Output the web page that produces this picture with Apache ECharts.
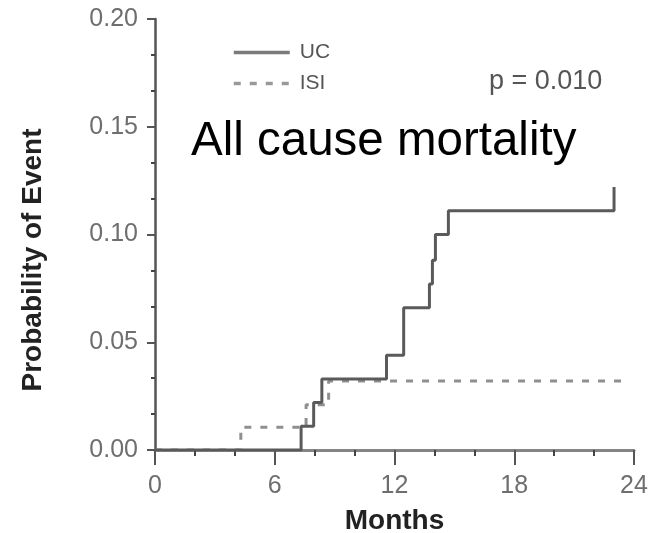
<!DOCTYPE html>
<html lang="en">
  <head>
    <meta charset="UTF-8" />
    <title>All cause mortality</title>
    <script src="https://cdn.jsdelivr.net/npm/echarts@6/dist/echarts.min.js"></script>
    <style>
      html, body { margin: 0; padding: 0; background: #fff; }
    </style>
  </head>
  <body>
    <div id="main" style="width: 652px;height:533px;"></div>
    <script type="text/javascript">
      // Kaplan-Meier style step curves
      var ucMonths = [0, 7.32, 7.95, 8.36, 11.6, 12.46, 13.75, 13.9, 14.05, 14.7, 23.0];
      var ucProb = [0, 0.011, 0.022, 0.033, 0.044, 0.066, 0.077, 0.088, 0.1, 0.111, 0.122];
      var isiMonths = [0, 4.3, 7.57, 8.7, 23.6];
      var isiProb = [0, 0.0105, 0.021, 0.032, 0.032];
      var xTicks = [0, 6, 12, 18, 24];
      var yTicks = [0, 0.05, 0.1, 0.15, 0.2];

      function pairs(xs, ys) {
        var out = [];
        for (var i = 0; i < xs.length; i++) out.push([xs[i], ys[i]]);
        return out;
      }

      var font = "Liberation Sans, Arial, sans-serif";
      var labelFont = { color: "#6e6e6e", fontSize: 25, fontFamily: font };

      var myChart = echarts.init(document.getElementById("main"));
      myChart.setOption({
        animation: false,
        backgroundColor: "#fff",
        // fixed plot box, labels may sit outside it
        grid: { left: 155, right: 18, top: 19, bottom: 83, containLabel: false, outerBoundsMode: "none" },
        title: {
          text: "All cause mortality",
          left: 186,
          top: 113,
          textStyle: { color: "#000", fontSize: 47.5, fontWeight: "normal", fontFamily: font }
        },
        legend: {
          orient: "vertical",
          left: 227,
          top: 37,
          itemWidth: 56,
          itemHeight: 14,
          itemGap: 10,
          itemStyle: { opacity: 0 },
          textStyle: { color: "#555", fontSize: 21, fontFamily: font, padding: [0, 0, 0, 5] },
          data: [
            { name: "UC", lineStyle: { width: 3.5, color: "#7a7a7a" } },
            { name: "ISI", lineStyle: { width: 3.5, color: "#999" } }
          ]
        },
        graphic: [
          {
            type: "text",
            left: 489,
            top: 68,
            style: { text: "p = 0.010", fill: "#555", fontSize: 27, fontFamily: font }
          },
          {
            type: "text",
            x: 33,
            y: 260,
            rotation: Math.PI / 2,
            style: {
              text: "Probability of Event",
              fill: "#222",
              fontSize: 28,
              fontWeight: "bold",
              fontFamily: font,
              align: "center",
              verticalAlign: "middle"
            }
          }
        ],
        xAxis: {
          type: "value",
          min: xTicks[0],
          max: xTicks[xTicks.length - 1],
          interval: 6,
          name: "Months",
          nameLocation: "middle",
          nameGap: 57,
          nameTextStyle: { color: "#222", fontSize: 28, fontWeight: "bold", fontFamily: font },
          axisLine: { show: true, lineStyle: { color: "#858585", width: 3 } },
          axisTick: { show: true, length: 15, lineStyle: { color: "#555", width: 2 } },
          minorTick: { show: true, splitNumber: 3, length: 6, lineStyle: { color: "#444", width: 2 } },
          splitLine: { show: false },
          axisLabel: Object.assign({ margin: 24 }, labelFont)
        },
        yAxis: {
          type: "value",
          min: yTicks[0],
          max: yTicks[yTicks.length - 1],
          interval: 0.05,
          axisLine: { show: true, lineStyle: { color: "#555", width: 2.5 } },
          axisTick: { show: true, length: 8, lineStyle: { color: "#555", width: 2 } },
          minorTick: { show: true, splitNumber: 3, length: 4, lineStyle: { color: "#444", width: 2 } },
          splitLine: { show: false },
          axisLabel: Object.assign({ margin: 17, formatter: function (v) { return v.toFixed(2); } }, labelFont)
        },
        series: [
          {
            name: "ISI",
            type: "line",
            step: "end",
            symbol: "none",
            data: pairs(isiMonths, isiProb),
            lineStyle: { color: "#8f8f8f", width: 3, type: [7, 9] },
            itemStyle: { color: "#8f8f8f" },
            z: 2
          },
          {
            name: "UC",
            type: "line",
            step: "end",
            symbol: "none",
            data: pairs(ucMonths, ucProb),
            lineStyle: { color: "#5a5a5a", width: 3 },
            itemStyle: { color: "#5a5a5a" },
            z: 3
          }
        ]
      });
    </script>
  </body>
</html>
